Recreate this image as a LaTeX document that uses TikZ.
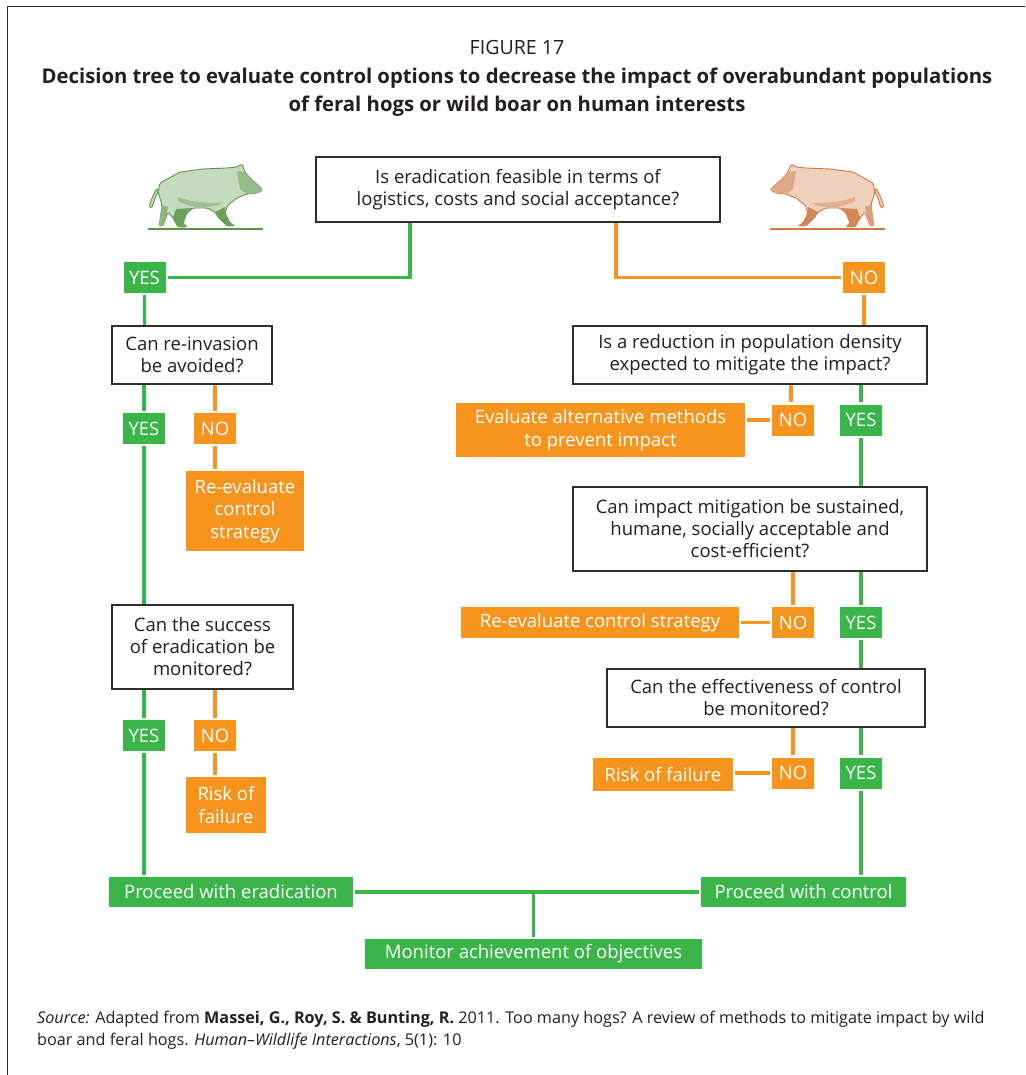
\documentclass[tikz,border=0pt]{standalone}
\usepackage{fontspec}
\setmainfont{Open Sans}
\usetikzlibrary{positioning,calc}
\definecolor{yesgreen}{RGB}{59,181,74}
\definecolor{noorange}{RGB}{247,148,29}
\definecolor{boxline}{RGB}{45,45,45}
\definecolor{inktext}{RGB}{35,31,32}
\definecolor{hoggreen}{RGB}{92,150,72}
\definecolor{hogorange}{RGB}{208,120,66}

\begin{document}
\begin{tikzpicture}[x=1pt,y=-1pt,
    question/.style={draw=boxline,line width=1.6pt,fill=white,text=inktext,align=center,inner sep=0pt,font=\fontsize{18.5}{22}\selectfont},
    yesbox/.style={fill=yesgreen,text=white,inner sep=0pt,minimum width=42pt,minimum height=31pt,font=\fontsize{18.5}{22}\selectfont},
    nobox/.style={fill=noorange,text=white,inner sep=0pt,minimum width=42pt,minimum height=31pt,font=\fontsize{18.5}{22}\selectfont},
    outcome/.style={fill=noorange,text=white,align=center,inner sep=0pt,font=\fontsize{18.5}{22.5}\selectfont},
    proceed/.style={fill=yesgreen,text=white,align=center,inner sep=0pt,minimum height=30pt,font=\fontsize{18.5}{22}\selectfont},
    yesline/.style={draw=yesgreen,line width=3.5pt},
    noline/.style={draw=noorange,line width=3.5pt},
    gap/.style={shorten >=2pt}
  ]
    \useasboundingbox (0,0) rectangle (1025,1075);
    % frame
    \draw[boxline,line width=1pt] (7,1075) -- (7,7) -- (1025,7);

    % heading
    \node[text=inktext,font=\fontsize{19.6}{22}\selectfont] (fig) at (517,48) {FIGURE 17};
    \node[text=inktext,align=center,font=\fontsize{20.3}{28}\selectfont\bfseries] (title) at (517,92)
      {Decision tree to evaluate control options to decrease the impact of overabundant populations\\of feral hogs or wild boar on human interests};

    % the two boars
    \foreach \hx/\hs/\hc in {148/1/hoggreen,885/-1/hogorange}{
      \begin{scope}[shift={(\hx,163)},xscale=\hs]
        \filldraw[fill=\hc!35,draw=\hc,line width=0.9pt,rounded corners=1.5pt] (12,20) -- (32,9) -- (55,6) -- (79,5) -- (89,4) -- (94,1) -- (97,9) -- (102,15)
          -- (112,24) -- (115,27) -- (109,30) -- (99,31) -- (89,35) -- (80,42) -- (77,50) -- (82,60) -- (87,63)
          -- (79,63) -- (70,54) -- (67,49) -- (59,45) -- (45,45) -- (39,50) -- (35,60) -- (39,64) -- (30,64)
          -- (25,55) -- (20,49) -- (17,57) -- (15,63) -- (11,63) -- (13,52) -- (14,42) -- (11,32) -- (9,25)
          -- (4,35) -- (1,44) -- (4,45) -- (7,35) -- (10,29) -- cycle;
        % shading of legs, belly and head
        \fill[\hc!90] (67,49) -- (77,44) -- (77,50) -- (82,60) -- (87,63) -- (79,63) -- (70,54) -- cycle;
        \fill[\hc!90] (45,45) -- (39,50) -- (35,60) -- (39,64) -- (30,64) -- (25,55) -- (28,46) -- cycle;
        \fill[\hc!70] (12,52) -- (14,42) -- (20,44) -- (17,57) -- (15,63) -- (11,63) -- cycle;
        \fill[\hc!60] (30,38) .. controls (45,46) and (60,46) .. (75,40) .. controls (62,40) and (45,40) .. (30,34) -- cycle;
        \fill[\hc!65] (89,8) -- (97,9) -- (102,15) -- (112,24) -- (115,27) -- (109,30) -- (99,31) -- (92,26) -- cycle;
        \draw[\hc,line width=1.2pt] (0,66) -- (115,66);
      \end{scope}
    }

    % questions
    \node[question,minimum width=404pt,minimum height=65pt] (q1) at (518,189.5) {Is eradication feasible in terms of\\logistics, costs and social acceptance?};
    \node[question,minimum width=160pt,minimum height=58pt] (q2) at (192,355) {Can re-invasion\\be avoided?};
    \node[question,minimum width=181pt,minimum height=84pt] (q3) at (202.5,647) {Can the success\\of eradication be\\monitored?};
    \node[question,minimum width=354pt,minimum height=58pt] (q4) at (750,355) {Is a reduction in population density\\expected to mitigate the impact?};
    \node[question,minimum width=354pt,minimum height=84pt] (q5) at (750,529) {Can impact mitigation be sustained,\\humane, socially acceptable and\\cost-efficient?};
    \node[question,minimum width=318pt,minimum height=58pt] (q6) at (766,698) {Can the effectiveness of control\\be monitored?};

    % answers
    \node[yesbox] (yesa) at (144.5,277.5) {YES};
    \node[nobox] (noa) at (864,277.5) {NO};
    \node[yesbox] (yesb) at (144,428.5) {YES};
    \node[nobox] (nob) at (215,428.5) {NO};
    \node[yesbox] (yesc) at (144,735.5) {YES};
    \node[nobox] (noc) at (215,735.5) {NO};
    \node[nobox] (nod) at (793,420) {NO};
    \node[yesbox] (yesd) at (861,420) {YES};
    \node[nobox] (noe) at (793,622.5) {NO};
    \node[yesbox] (yese) at (861,622.5) {YES};
    \node[nobox] (nof) at (793,773) {NO};
    \node[yesbox] (yesf) at (861,773) {YES};

    % outcomes
    \node[outcome,minimum width=118pt,minimum height=80pt] (reevala) at (245,511) {Re-evaluate\\control\\strategy};
    \node[outcome,minimum width=80pt,minimum height=56pt] (riska) at (226,805) {Risk of\\failure};
    \node[outcome,minimum width=289pt,minimum height=54pt] (altmeth) at (600.5,430) {Evaluate alternative methods\\to prevent impact};
    \node[outcome,minimum width=278pt,minimum height=31pt] (reevalb) at (600,622.5) {Re-evaluate control strategy};
    \node[outcome,minimum width=140pt,minimum height=33pt] (riskb) at (663,774.5) {Risk of failure};
    \node[proceed,minimum width=244pt] (erad) at (231,892) {Proceed with eradication};
    \node[proceed,minimum width=205pt] (ctrl) at (803.5,892) {Proceed with control};
    \node[proceed,minimum width=337pt] (monit) at (533.5,954) {Monitor achievement of objectives};

    % eradication branch
    \draw[yesline,gap] ([xshift=-108pt]q1.south) |- (yesa);
    \draw[yesline,shorten <=2pt] (yesa) -- (yesa |- q2.north);
    \draw[yesline,gap] (q2.south -| yesb) -- (yesb);
    \draw[noline,gap] (q2.south -| nob) -- (nob);
    \draw[noline,gap,shorten <=2pt] (nob) -- (nob |- reevala.north);
    \draw[yesline,shorten <=2pt] (yesb) -- (yesb |- q3.north);
    \draw[yesline,gap] (q3.south -| yesc) -- (yesc);
    \draw[noline,gap] (q3.south -| noc) -- (noc);
    \draw[noline,gap,shorten <=2pt] (noc) -- (noc |- riska.north);
    \draw[yesline,gap,shorten <=2pt] (yesc) -- (yesc |- erad.north);

    % control branch
    \draw[noline,gap] ([xshift=98pt]q1.south) |- (noa);
    \draw[noline,shorten <=2pt] (noa) -- (noa |- q4.north);
    \draw[noline,gap] ([xshift=41pt]q4.south) -- ([xshift=41pt]q4.south |- nod.north);
    \draw[yesline,gap] (q4.south -| yesd) -- (yesd);
    \draw[noline,gap,shorten <=2pt] (nod.west) -- (nod.west -| altmeth.east);
    \draw[yesline,shorten <=2pt] (yesd) -- (yesd |- q5.north);
    \draw[noline,gap] (q5.south -| nod) -- (noe);
    \draw[yesline,gap] (q5.south -| yese) -- (yese);
    \draw[noline,gap,shorten <=2pt] (noe) -- (reevalb);
    \draw[yesline,shorten <=2pt] (yese) -- (yese |- q6.north);
    \draw[noline,gap] (q6.south -| nof) -- (nof);
    \draw[yesline,gap] (q6.south -| yesf) -- (yesf);
    \draw[noline,gap,shorten <=2pt] (nof) -- (nof -| riskb.east);
    \draw[yesline,gap,shorten <=2pt] (yesf) -- (yesf |- ctrl.north);

    % joining
    \draw[yesline,gap,shorten <=2pt] (erad) -- (ctrl);
    \draw[yesline,shorten <=2pt] (monit.north) -- (monit.north |- erad.east);

    % source
    \node[anchor=north west,align=left,inner sep=0pt,text=inktext,font=\fontsize{16.2}{22}\selectfont] (src) at (37,1011)
      {\textit{Source:} Adapted from \textbf{Massei, G., Roy, S. \& Bunting, R.} 2011. Too many hogs? A review of methods to mitigate impact by wild\\boar and feral hogs. \textit{Human–Wildlife Interactions}, 5(1): 10};
  \end{tikzpicture}
\end{document}
